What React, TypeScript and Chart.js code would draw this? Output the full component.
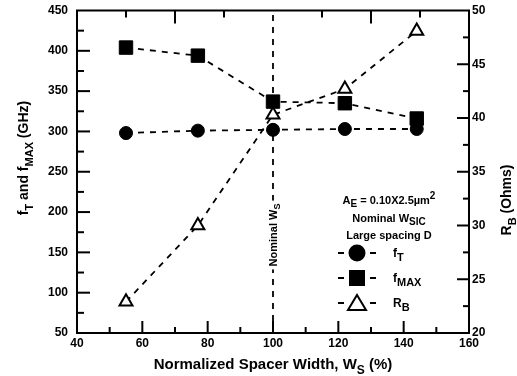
import React, { useEffect, useRef } from 'react';
import { Chart, registerables } from 'chart.js';

Chart.register(...registerables);

// ---- data ----
const spacerWidth = [55, 77, 100, 122, 144];
const fT = [298, 301, 302, 303, 303];
const fMAX = [404, 394, 337, 335, 316];
const RB = [22.9, 30.0, 40.3, 42.7, 48.1];

const xRange = [40, 160];
const yRange = [50, 450];
const y1Range = [20, 50];
const nominalWs = 100;

const FONT = '"Liberation Sans", Arial, Helvetica, sans-serif';

type Part = { t: string; sub?: boolean; sup?: boolean };

function partFont(p: Part, size: number, subSize: number) {
  return `bold ${p.sub || p.sup ? subSize : size}px ${FONT}`;
}

function measureRich(ctx: CanvasRenderingContext2D, parts: Part[], size: number, subSize: number) {
  let total = 0;
  for (const p of parts) {
    ctx.font = partFont(p, size, subSize);
    total += ctx.measureText(p.t).width;
  }
  return total;
}

function drawRich(
  ctx: CanvasRenderingContext2D,
  parts: Part[],
  x: number,
  yMid: number,
  size: number,
  subSize: number,
  align: 'left' | 'center'
) {
  const total = measureRich(ctx, parts, size, subSize);
  let cx = align === 'center' ? x - total / 2 : x;
  const base = yMid + size * 0.36;
  ctx.textAlign = 'left';
  ctx.textBaseline = 'alphabetic';
  ctx.fillStyle = '#000';
  for (const p of parts) {
    ctx.font = partFont(p, size, subSize);
    const dy = p.sub ? size * 0.32 : p.sup ? -size * 0.42 : 0;
    ctx.fillText(p.t, cx, base + dy);
    cx += ctx.measureText(p.t).width;
  }
  return total;
}

function drawRotated(
  ctx: CanvasRenderingContext2D,
  parts: Part[],
  x: number,
  y: number,
  size: number,
  subSize: number
) {
  ctx.save();
  ctx.translate(x, y);
  ctx.rotate(-Math.PI / 2);
  drawRich(ctx, parts, 0, 0, size, subSize, 'center');
  ctx.restore();
}

const decorPlugin = {
  id: 'decor',
  beforeDatasetsDraw(chart: any) {
    const ctx: CanvasRenderingContext2D = chart.ctx;
    const { left, right, top, bottom } = chart.chartArea;
    const xs = chart.scales.x;
    const ys = chart.scales.y;
    const y1 = chart.scales.y1;
    ctx.save();
    ctx.strokeStyle = '#000';
    ctx.lineWidth = 2;
    ctx.lineCap = 'butt';
    const seg = (x1: number, yA: number, x2: number, yB: number) => {
      ctx.beginPath();
      ctx.moveTo(x1, yA);
      ctx.lineTo(x2, yB);
      ctx.stroke();
    };
    // bottom ticks
    for (let v = 50; v < 160; v += 10) {
      const px = xs.getPixelForValue(v);
      const len = v % 20 === 0 ? 12 : 6;
      seg(px, bottom, px, bottom - len);
    }
    // top ticks
    for (let v = 55; v < 160; v += 15) {
      if (v === nominalWs) continue;
      const px = xs.getPixelForValue(v);
      const len = (v - 70) % 30 === 0 ? 13 : 7;
      seg(px, top, px, top + len);
    }
    // left ticks
    for (let v = 75; v < 450; v += 25) {
      const py = ys.getPixelForValue(v);
      const len = v % 50 === 0 ? 13 : 7;
      seg(left, py, left + len, py);
    }
    // right ticks
    for (let v = 22.5; v < 50; v += 2.5) {
      const py = y1.getPixelForValue(v);
      const len = Math.abs(v % 5) < 0.01 ? 12 : 6;
      seg(right, py, right - len, py);
    }
    // frame
    ctx.strokeRect(left, top, right - left, bottom - top);

    // nominal Ws vertical dashed line
    const nx = xs.getPixelForValue(nominalWs);
    ctx.lineWidth = 1.8;
    ctx.setLineDash([6, 6]);
    seg(nx, bottom, nx, top);
    ctx.setLineDash([]);
    const lblParts: Part[] = [{ t: 'Nominal W' }, { t: 'S', sub: true }];
    const w = measureRich(ctx, lblParts, 11, 9);
    const ly = 235;
    ctx.fillStyle = '#fff';
    ctx.fillRect(nx - 7, ly - w / 2 - 3, 15, w + 6);
    drawRotated(ctx, lblParts, nx, ly, 11, 9);
    ctx.restore();
  },
  afterDraw(chart: any) {
    const ctx: CanvasRenderingContext2D = chart.ctx;
    ctx.save();
    // axis titles
    drawRotated(
      ctx,
      [{ t: 'f' }, { t: 'T', sub: true }, { t: ' and f' }, { t: 'MAX', sub: true }, { t: ' (GHz)' }],
      23,
      158,
      14,
      11
    );
    drawRotated(ctx, [{ t: 'R' }, { t: 'B', sub: true }, { t: ' (Ohms)' }], 506, 200, 14, 11);
    drawRich(
      ctx,
      [{ t: 'Normalized Spacer Width, W' }, { t: 'S', sub: true }, { t: ' (%)' }],
      273,
      364,
      15,
      12,
      'center'
    );
    // annotation block
    drawRich(
      ctx,
      [{ t: 'A' }, { t: 'E', sub: true }, { t: ' = 0.10X2.5\u00b5m' }, { t: '2', sup: true }],
      389,
      200,
      11,
      10,
      'center'
    );
    drawRich(ctx, [{ t: 'Nominal W' }, { t: 'SIC', sub: true }], 389, 218, 11, 10, 'center');
    drawRich(ctx, [{ t: 'Large spacing D' }], 389, 235, 11, 10, 'center');

    // legend
    const cx = 360;
    const rows = [253, 278, 303];
    const labels: Part[][] = [
      [{ t: 'f' }, { t: 'T', sub: true }],
      [{ t: 'f' }, { t: 'MAX', sub: true }],
      [{ t: 'R' }, { t: 'B', sub: true }],
    ];
    ctx.strokeStyle = '#000';
    ctx.lineWidth = 2;
    rows.forEach((ry, i) => {
      ctx.beginPath();
      ctx.moveTo(cx - 22, ry);
      ctx.lineTo(cx - 16, ry);
      ctx.moveTo(cx + 10, ry);
      ctx.lineTo(cx + 16, ry);
      ctx.stroke();
      ctx.fillStyle = '#000';
      if (i === 0) {
        ctx.beginPath();
        ctx.arc(cx - 3, ry, 8.5, 0, Math.PI * 2);
        ctx.fill();
      } else if (i === 1) {
        ctx.fillRect(cx - 11, ry - 8, 16, 16);
      } else {
        ctx.beginPath();
        ctx.moveTo(cx - 3, ry - 8);
        ctx.lineTo(cx + 6, ry + 7);
        ctx.lineTo(cx - 12, ry + 7);
        ctx.closePath();
        ctx.fillStyle = '#fff';
        ctx.fill();
        ctx.stroke();
      }
      drawRich(ctx, labels[i], 393, ry, 12, 11, 'left');
    });
    ctx.restore();
  },
};

export default function App() {
  const ref = useRef<HTMLCanvasElement | null>(null);
  useEffect(() => {
    document.body.style.margin = '0';
    if (!ref.current) return;
    const mk = (vals: number[]) => spacerWidth.map((x, i) => ({ x, y: vals[i] }));
    const tickFont = { family: FONT, size: 12, weight: 'bold' as const };
    const zeroPad = (s: any) => {
      s.paddingTop = 0;
      s.paddingBottom = 0;
      s.paddingLeft = 0;
      s.paddingRight = 0;
    };
    const chart = new Chart(ref.current, {
      type: 'line',
      data: {
        datasets: [
          {
            label: 'fT',
            data: mk(fT),
            yAxisID: 'y',
            borderColor: '#000',
            borderWidth: 1.8,
            borderDash: [6, 6],
            pointStyle: 'circle',
            pointRadius: 6.5,
            pointBackgroundColor: '#000',
            pointBorderColor: '#000',
            pointBorderWidth: 1,
            tension: 0,
          },
          {
            label: 'fMAX',
            data: mk(fMAX),
            yAxisID: 'y',
            borderColor: '#000',
            borderWidth: 1.8,
            borderDash: [6, 6],
            pointStyle: 'rect',
            pointRadius: 9.5,
            pointBackgroundColor: '#000',
            pointBorderColor: '#000',
            pointBorderWidth: 1,
            tension: 0,
          },
          {
            label: 'RB',
            data: mk(RB),
            yAxisID: 'y1',
            borderColor: '#000',
            borderWidth: 1.8,
            borderDash: [6, 6],
            pointStyle: 'triangle',
            pointRadius: 7.5,
            pointBackgroundColor: '#fff',
            pointBorderColor: '#000',
            pointBorderWidth: 2,
            tension: 0,
          },
        ],
      },
      options: {
        animation: false,
        responsive: false,
        devicePixelRatio: 1,
        layout: { padding: { top: 10, left: 0, right: 0, bottom: 0 } },
        plugins: { legend: { display: false }, tooltip: { enabled: false } },
        scales: {
          x: {
            type: 'linear',
            min: xRange[0],
            max: xRange[1],
            grid: { display: false, drawTicks: false },
            border: { display: false },
            ticks: { stepSize: 20, color: '#000', font: tickFont, padding: 3, maxRotation: 0 },
            afterFit: (s: any) => {
              s.height = 43;
              zeroPad(s);
            },
          },
          y: {
            type: 'linear',
            position: 'left',
            min: yRange[0],
            max: yRange[1],
            grid: { display: false, drawTicks: false },
            border: { display: false },
            ticks: { stepSize: 50, color: '#000', font: tickFont, padding: 9 },
            afterFit: (s: any) => {
              s.width = 77;
              zeroPad(s);
            },
          },
          y1: {
            type: 'linear',
            position: 'right',
            min: y1Range[0],
            max: y1Range[1],
            grid: { display: false, drawTicks: false },
            border: { display: false },
            ticks: { stepSize: 5, color: '#000', font: tickFont, padding: 3 },
            afterFit: (s: any) => {
              s.width = 48;
              zeroPad(s);
            },
          },
        },
      },
      plugins: [decorPlugin],
    });
    return () => chart.destroy();
  }, []);
  return (
    <div style={{ width: 517, height: 376, background: '#fff' }}>
      <canvas ref={ref} width={517} height={376} style={{ display: 'block' }} />
    </div>
  );
}
